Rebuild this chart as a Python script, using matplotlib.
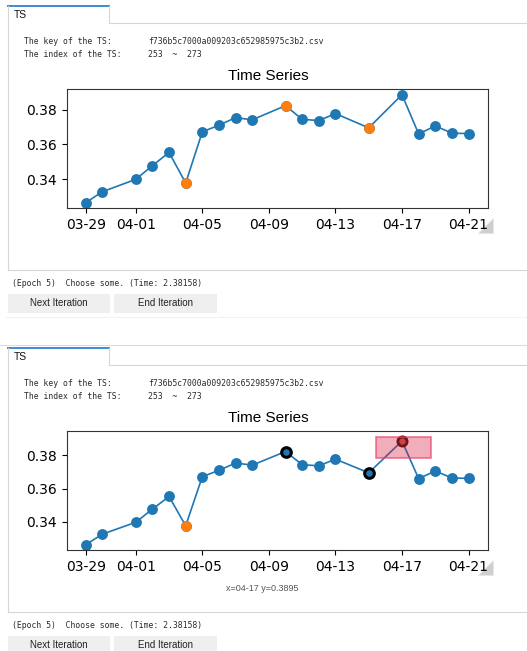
import matplotlib
matplotlib.use('Agg')
import matplotlib.pyplot as plt
import matplotlib.dates as mdates
from matplotlib.patches import Rectangle, Polygon
import pandas as pd

W, H = 527, 651

# series
days = ['03-29', '03-30', '04-01', '04-02', '04-03', '04-04', '04-05', '04-06', '04-07', '04-08',
        '04-10', '04-11', '04-12', '04-13', '04-15', '04-17', '04-18', '04-19', '04-20', '04-21']
values = [0.3264, 0.3327, 0.3398, 0.3477, 0.3553, 0.3377, 0.3672, 0.3710, 0.3754, 0.3741,
          0.3823, 0.3744, 0.3737, 0.3777, 0.3695, 0.3886, 0.3660, 0.3706, 0.3664, 0.3662]
tick_days = ['03-29', '04-01', '04-05', '04-09', '04-13', '04-17', '04-21']
y_ticks = [0.34, 0.36, 0.38]

top_orange = ['04-04', '04-10', '04-15']
bottom_orange = ['04-04']
bottom_picked = ['04-10', '04-15']
bottom_selected = ['04-17']

# selection box in the lower chart
box_from, box_to = '04-15 10:00', '04-18 18:00'
box_low, box_high = 0.3785, 0.3912

key_name = 'f736b5c7000a009203c652985975c3b2.csv'
index_text = '253  ~  273'
status_text = '(Epoch 5)  Choose some. (Time: 2.38158)'
cursor_text = 'x=04-17 y=0.3895'


def to_dt(lst):
    return pd.to_datetime(['2020-' + d for d in lst])


x = to_dt(days)
val = dict(zip(days, values))

fig = plt.figure(figsize=(W / 100, H / 100), dpi=100)
fig.patch.set_facecolor('white')

ui = fig.add_axes([0, 0, 1, 1])
ui.set_xlim(0, W)
ui.set_ylim(H, 0)
ui.axis('off')

mono = dict(family='DejaVu Sans Mono', fontsize=5.9, color='#2b2b2b', va='center')
sans = dict(family='Liberation Sans', fontsize=7, color='#222222', va='center', ha='center')

for k, off in enumerate([0, 342]):
    # tab + panel frame
    ui.plot([8, 109], [6 + off, 6 + off], color='#3c8ad6', lw=1.4)
    ui.plot([8, 8], [6 + off, 270 + off], color='#d6d6d6', lw=0.8)
    ui.plot([109, 109], [6 + off, 23 + off], color='#d6d6d6', lw=0.8)
    ui.plot([109, W], [23 + off, 23 + off], color='#d6d6d6', lw=0.8)
    ui.plot([8, W], [270 + off, 270 + off], color='#d6d6d6', lw=0.8)
    ui.text(14, 15.5 + off, 'TS', family='Liberation Sans', fontsize=7.5, color='#111111', va='center')

    ui.text(24, 42 + off, 'The key of the TS:', **mono)
    ui.text(148, 42 + off, key_name, **mono)
    ui.text(24, 54.5 + off, 'The index of the TS:', **mono)
    ui.text(148, 54.5 + off, index_text, **mono)

    # resize grip
    ui.add_patch(Polygon([(493, 218 + off), (493, 233 + off), (478, 233 + off)],
                         closed=True, fc='#cfcfcf', ec='#e6e6e6', lw=0.6))

    ui.text(12, 283 + off, status_text, **mono)
    for bx0, bx1, lab in [(8, 110, 'Next Iteration'), (114, 217, 'End Iteration')]:
        ui.add_patch(Rectangle((bx0, 294 + off), bx1 - bx0, 19, fc='#efefef', ec='none'))
        ui.text((bx0 + bx1) / 2, 303.5 + off, lab, **sans)
    ui.plot([6, W], [317 + off, 317 + off], color='#f2f2f2', lw=0.8)

    ax = fig.add_axes([66.7 / W, 1 - (208 + off) / H, (487.7 - 66.7) / W, (208 - 89.3) / H])
    ax.plot(x, values, '-o', color='#1f77b4', lw=1.2, markersize=6.8, zorder=2)
    if k == 0:
        ax.scatter(to_dt(top_orange), [val[d] for d in top_orange], s=44, color='#ff7f0e', zorder=3)
    else:
        ax.scatter(to_dt(bottom_orange), [val[d] for d in bottom_orange], s=44, color='#ff7f0e', zorder=3)
        ax.scatter(to_dt(bottom_picked), [val[d] for d in bottom_picked], s=48, color='#1f77b4',
                   edgecolors='black', linewidths=2.2, zorder=3)
        ax.scatter(to_dt(bottom_selected), [val[d] for d in bottom_selected], s=44, color='#c0603a',
                   edgecolors='#3a1010', linewidths=2.0, zorder=3)
        b0 = mdates.date2num(pd.Timestamp('2020-' + box_from))
        b1 = mdates.date2num(pd.Timestamp('2020-' + box_to))
        ax.add_patch(Rectangle((b0, box_low), b1 - b0, box_high - box_low,
                               fc=(0.86, 0.08, 0.24, 0.35), ec=(0.93, 0.25, 0.4, 0.7), lw=1.2, zorder=5))

    ax.set_title('Time Series', family='Liberation Sans', fontsize=11, pad=7, x=0.478)
    ax.set_xticks(to_dt(tick_days))
    ax.xaxis.set_major_formatter(mdates.DateFormatter('%m-%d'))
    ax.set_yticks(y_ticks)
    ax.yaxis.set_major_formatter(matplotlib.ticker.FormatStrFormatter('%.2f'))
    ax.tick_params(labelsize=10)
    for s in ax.spines.values():
        s.set_color('#333333')

ui.plot([0, W], [345, 345], color='#dcdcdc', lw=0.8)
ui.text(262.5, 588.5, cursor_text, family='Liberation Sans', fontsize=6.5, color='#555555',
        va='center', ha='center')

fig.savefig('out.png', dpi=100)
